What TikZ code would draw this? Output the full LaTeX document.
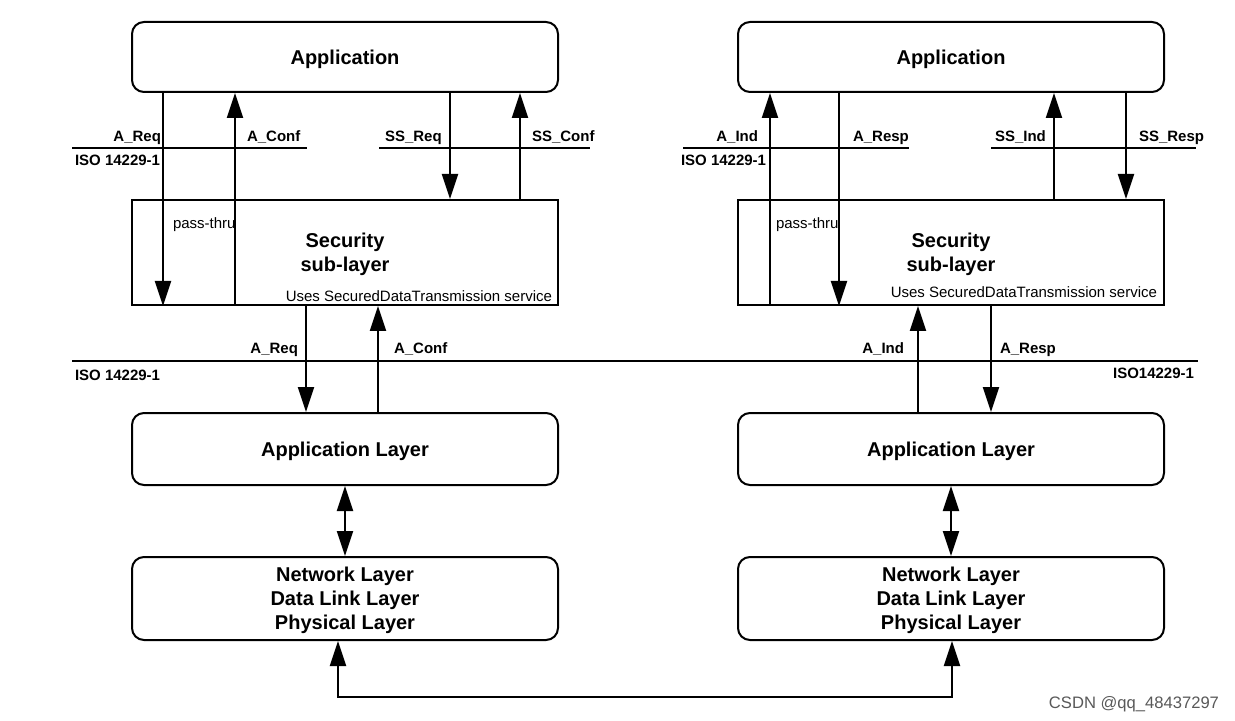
\documentclass[tikz,border=0pt]{standalone}
\usepackage{fontspec}
\setmainfont{Liberation Sans}
\usetikzlibrary{arrows.meta}

\begin{document}
\begin{tikzpicture}[x=0.5pt, y=-0.5pt, line width=1pt]
    \tikzset{ lay/.style={draw=black, rounded corners=6pt, minimum width=213pt, text=black, text depth=0pt, align=center, font=\bfseries\fontsize{10}{12}\selectfont } }
    \tikzset{ sub/.style={draw=black, minimum width=213pt, minimum height=52.5pt, text=black, text depth=0pt, align=center, font=\bfseries\fontsize{10}{12}\selectfont } }
    \tikzset{ lbl/.style={inner sep=0pt, font=\bfseries\fontsize{7.5}{9}\selectfont } }
    \tikzset{ txt/.style={inner sep=0pt, font=\fontsize{7.5}{9}\selectfont } }
    \tikzset{ sig/.style={-{Triangle[length=12.5pt, width=8pt]}} }
    \tikzset{ both/.style={{Triangle[length=12.5pt, width=8pt]}-{Triangle[length=12.5pt, width=8pt]}} }

    \fill[white] (0,0) rectangle (1235,721);

    % client side
    \node[lay, minimum height=35pt] (app1) at (345,57) {Application};
    \node[sub] (sec1) at (345,252.5) {Security\\sub-layer};
    \node[lay, minimum height=36pt] (al1) at (345,449) {Application Layer};
    \node[lay, minimum height=41.5pt] (net1) at (345,598.5) {Network Layer\\Data Link Layer\\Physical Layer};

    % server side
    \node[lay, minimum height=35pt] (app2) at (951,57) {Application};
    \node[sub] (sec2) at (951,252.5) {Security\\sub-layer};
    \node[lay, minimum height=36pt] (al2) at (951,449) {Application Layer};
    \node[lay, minimum height=41.5pt] (net2) at (951,598.5) {Network Layer\\Data Link Layer\\Physical Layer};

    \node[txt, anchor=south east] (use1) at ([xshift=-3pt, yshift=1.5pt]sec1.south east) {Uses SecuredDataTransmission service};
    \node[txt, anchor=south east] (use2) at ([xshift=-3.5pt, yshift=3.5pt]sec2.south east) {Uses SecuredDataTransmission service};

    \coordinate (areq1) at (163,0);
    \coordinate (aconf1) at (235,0);
    \coordinate (ssreq1) at (450,0);
    \coordinate (ssconf1) at (520,0);
    \coordinate (lreq1) at (306,0);
    \coordinate (lconf1) at (378,0);
    \coordinate (aind2) at (770,0);
    \coordinate (aresp2) at (839,0);
    \coordinate (ssind2) at (1054,0);
    \coordinate (ssresp2) at (1126,0);
    \coordinate (lind2) at (918,0);
    \coordinate (lresp2) at (991,0);
    \coordinate (busl) at (338,0);
    \coordinate (busr) at (952,0);
    \coordinate (bus) at (0,697);

    \draw[sig] (app1.south -| areq1) -- (sec1.south -| areq1);
    \draw[sig] (sec1.south -| aconf1) -- (app1.south -| aconf1);
    \draw[sig] (app1.south -| ssreq1) -- (sec1.north -| ssreq1);
    \draw[sig] (sec1.north -| ssconf1) -- (app1.south -| ssconf1);
    \draw[sig] (sec1.south -| lreq1) -- (al1.north -| lreq1);
    \draw[sig] (al1.north -| lconf1) -- (sec1.south -| lconf1);

    \draw[sig] (sec2.south -| aind2) -- (app2.south -| aind2);
    \draw[sig] (app2.south -| aresp2) -- (sec2.south -| aresp2);
    \draw[sig] (sec2.north -| ssind2) -- (app2.south -| ssind2);
    \draw[sig] (app2.south -| ssresp2) -- (sec2.north -| ssresp2);
    \draw[sig] (al2.north -| lind2) -- (sec2.south -| lind2);
    \draw[sig] (sec2.south -| lresp2) -- (al2.north -| lresp2);

    \draw[both] (al1) -- (net1);
    \draw[both] (al2) -- (net2);
    \draw[both] (net1.south -| busl) -- (busl |- bus) -- (busr |- bus) -- (net2.south -| busr);

    % service boundaries
    \draw[] (72,148) -- (307,148);
    \draw[] (379,148) -- (590,148);
    \draw[] (683,148) -- (909,148);
    \draw[] (991,148) -- (1196,148);
    \draw[] (72,361) -- (1198,361);

    \node[lbl, anchor=base east] (t1) at (162,142) {A\_Req};
    \node[lbl, anchor=base west] (t2) at (246,142) {A\_Conf};
    \node[lbl, anchor=base west] (t3) at (384,142) {SS\_Req};
    \node[lbl, anchor=base west] (t4) at (531,142) {SS\_Conf};
    \node[lbl, anchor=base west] (t5) at (74,166) {ISO 14229-1};
    \node[lbl, anchor=base east] (t6) at (759,142) {A\_Ind};
    \node[lbl, anchor=base west] (t7) at (852,142) {A\_Resp};
    \node[lbl, anchor=base west] (t8) at (994,142) {SS\_Ind};
    \node[lbl, anchor=base west] (t9) at (1138,142) {SS\_Resp};
    \node[lbl, anchor=base west] (t10) at (680,166) {ISO 14229-1};

    \node[lbl, anchor=base east] (m1) at (299,353) {A\_Req};
    \node[lbl, anchor=base west] (m2) at (393,353) {A\_Conf};
    \node[lbl, anchor=base west] (m3) at (74,380) {ISO 14229-1};
    \node[lbl, anchor=base east] (m4) at (905,353) {A\_Ind};
    \node[lbl, anchor=base west] (m5) at (999,353) {A\_Resp};
    \node[lbl, anchor=base east] (m6) at (1195,379) {ISO14229-1};

    \node[txt, anchor=base west] (pt1) at (172,229) {pass-thru};
    \node[txt, anchor=base west] (pt2) at (775,229) {pass-thru};

    \node[inner sep=0pt, anchor=base east, text=black!65, font=\fontsize{8.3}{10}\selectfont] (mark) at (1220,708) {CSDN @qq\_48437297};
\end{tikzpicture}
\end{document}
